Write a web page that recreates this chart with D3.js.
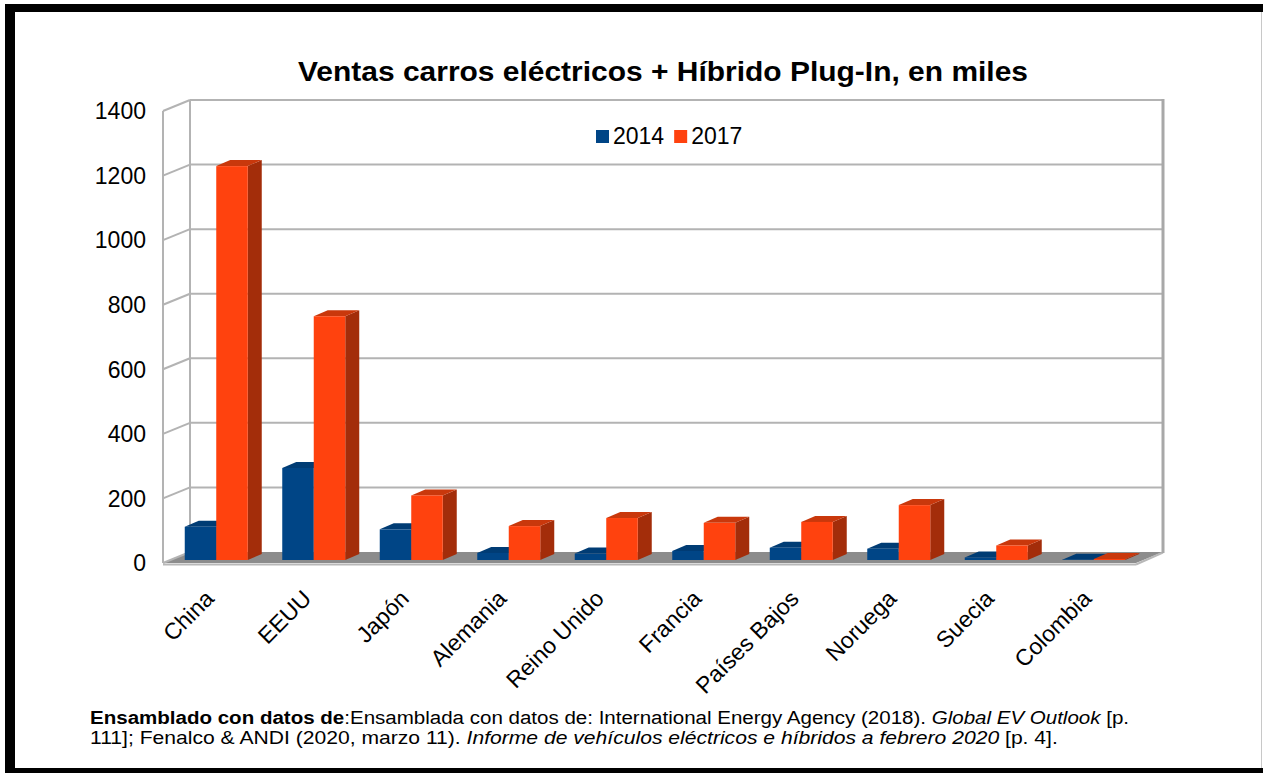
<!DOCTYPE html>
<html><head><meta charset="utf-8">
<script src="https://cdn.jsdelivr.net/npm/d3@7"></script>
<style>
html,body{margin:0;padding:0;background:#fff;}
svg{display:block;font-family:"Liberation Sans",Arial,sans-serif;}
</style></head>
<body>
<svg id="c" width="1263" height="773"></svg>
<script>
const categories = ["China","EEUU","Japón","Alemania","Reino Unido","Francia","Países Bajos","Noruega","Suecia","Colombia"];
const series = ["2014","2017"];
const values2014 = [103, 285, 95, 22, 20, 28, 38, 35, 8, 1];
const values2017 = [1220, 755, 200, 105, 130, 115, 118, 170, 45, 3];
const yTicks = [0,200,400,600,800,1000,1200,1400];
const titleText = "Ventas carros eléctricos + Híbrido Plug-In, en miles";
const seriesColors = {"2014":{front:"#004586",side:"#002f5e",top:"#003c74"},
                      "2017":{front:"#ff420e",side:"#a32d0a",top:"#c9380c"}};

const svg = d3.select("#c");
const W=1263,H=773;
svg.append("rect").attr("width",W).attr("height",H).attr("fill","#fff");

// geometry of the 3D box
const back = {left:190,right:1163};
const depth = {dx:-27, dy:11};          // back wall -> front edge
const barDepth = {dx:14, dy:-6};        // depth of each bar
const y = d3.scaleLinear().domain([0,1400]).range([552,100]); // back wall
const barBase = 560;                    // bar front plane baseline
const barOffsetY = barBase - y(0);
const x = d3.scaleBand().domain(categories).range([174.5,1149.5]);
const xs = d3.scaleBand().domain(series).range([-38.5,24.5]);

const g = svg.append("g");
// floor
const floorPts = [[back.left,y(0)],[back.right,y(0)],[back.right+depth.dx,y(0)+depth.dy],[back.left+depth.dx,y(0)+depth.dy]];
g.append("polygon").attr("points",floorPts.map(p=>p.join(",")).join(" ")).attr("fill","#8c8c8c");
g.append("line").attr("x1",back.left+depth.dx).attr("x2",back.right+depth.dx)
 .attr("y1",y(0)+depth.dy+1.5).attr("y2",y(0)+depth.dy+1.5).attr("stroke","#b8b8b8").attr("stroke-width",2);
g.append("line").attr("x1",back.right+depth.dx).attr("x2",back.right)
 .attr("y1",y(0)+depth.dy+1.5).attr("y2",y(0)+0.5).attr("stroke","#b8b8b8").attr("stroke-width",2);

// gridlines on back wall and left wall
yTicks.forEach(t=>{
  if(t>0){
    g.append("line").attr("x1",back.left).attr("x2",back.right).attr("y1",y(t)).attr("y2",y(t))
     .attr("stroke","#b3b3b3").attr("stroke-width",2);
  }
  g.append("line").attr("x1",back.left+depth.dx).attr("x2",back.left).attr("y1",y(t)+depth.dy).attr("y2",y(t))
   .attr("stroke","#b3b3b3").attr("stroke-width",2);
});
g.append("line").attr("x1",back.left).attr("x2",back.left).attr("y1",y(1400)).attr("y2",y(0))
 .attr("stroke","#b3b3b3").attr("stroke-width",2);
g.append("line").attr("x1",back.left+depth.dx).attr("x2",back.left+depth.dx).attr("y1",y(1400)+depth.dy).attr("y2",y(0)+depth.dy)
 .attr("stroke","#b3b3b3").attr("stroke-width",2);
g.append("line").attr("x1",back.right).attr("x2",back.right).attr("y1",y(1400)-1).attr("y2",y(0)+1)
 .attr("stroke","#a8a8a8").attr("stroke-width",3);

// y tick labels
svg.append("g").selectAll("text").data(yTicks).join("text")
  .attr("x",146).attr("y",d=>y(d)+depth.dy).attr("dy","0.36em")
  .attr("text-anchor","end").attr("font-size",23).attr("fill","#000").text(d=>d);

// bars
const barData = [];
categories.forEach((c,i)=>{
  barData.push({c,s:"2014",v:values2014[i]});
  barData.push({c,s:"2017",v:values2017[i]});
});
const bars = g.append("g");
barData.forEach(d=>{
  const x0 = x(d.c)+x.bandwidth()/2+xs(d.s);
  const w = xs.bandwidth();
  const top = y(d.v)+barOffsetY;
  const col = seriesColors[d.s];
  const bg = bars.append("g");
  bg.append("polygon").attr("points",[[x0+w,top],[x0+w+barDepth.dx,top+barDepth.dy],[x0+w+barDepth.dx,barBase+barDepth.dy],[x0+w,barBase]].map(p=>p.join(",")).join(" "))
    .attr("fill",col.side);
  bg.append("polygon").attr("points",[[x0,top],[x0+barDepth.dx,top+barDepth.dy],[x0+w+barDepth.dx,top+barDepth.dy],[x0+w,top]].map(p=>p.join(",")).join(" "))
    .attr("fill",col.top);
  bg.append("rect").attr("x",x0).attr("y",top).attr("width",w).attr("height",Math.max(0,barBase-top)).attr("fill",col.front);
});

// x labels
svg.append("g").selectAll("text").data(categories).join("text")
  .attr("transform",d=>`translate(${x(d)+x.bandwidth()/2-8},600) rotate(-45)`)
  .attr("text-anchor","end").attr("font-size",23).attr("fill","#000").text(d=>d);

// title
svg.append("text").attr("x",298).attr("y",81)
  .attr("font-size",28).attr("font-weight","bold").attr("fill","#000")
  .attr("textLength",730).attr("lengthAdjust","spacingAndGlyphs").text(titleText);

// legend
const leg = svg.append("g").attr("transform","translate(596,0)");
let lx = 0;
series.forEach(s=>{
  leg.append("rect").attr("x",lx).attr("y",130).attr("width",13).attr("height",13).attr("fill",seriesColors[s].front);
  const t = leg.append("text").attr("x",lx+17).attr("y",143.5).attr("font-size",23).attr("fill","#000").text(s);
  lx += 17 + t.node().getComputedTextLength() + 10;
});

// footer
function footerLine(yPos, parts, target){
  const t = svg.append("text").attr("x",0).attr("y",0).attr("font-size",19).attr("fill","#000");
  parts.forEach(p=>{
    const ts = t.append("tspan").text(p.t);
    if(p.b) ts.attr("font-weight","bold");
    if(p.i) ts.attr("font-style","italic");
  });
  const len = t.node().getComputedTextLength();
  t.attr("transform",`translate(90,${yPos}) scale(${target/len},1)`);
}
footerLine(724,[{t:"Ensamblado con datos de",b:true},{t:":Ensamblada con datos de: International Energy Agency (2018). "},{t:"Global EV Outlook",i:true},{t:" [p."}],1040);
footerLine(744,[{t:"111]; Fenalco & ANDI (2020, marzo 11). "},{t:"Informe de vehículos eléctricos e híbridos a febrero 2020",i:true},{t:" [p. 4]."}],968);

// frame
svg.append("rect").attr("x",5).attr("y",4).attr("width",W-5).attr("height",8).attr("fill","#000");
svg.append("rect").attr("x",5).attr("y",4).attr("width",10).attr("height",H-4).attr("fill","#000");
svg.append("rect").attr("x",5).attr("y",768).attr("width",W-5).attr("height",5).attr("fill","#000");
svg.append("line").attr("x1",1261.5).attr("x2",1261.5).attr("y1",12).attr("y2",768).attr("stroke","#c8c8c8").attr("stroke-width",1);
</script>
</body></html>
